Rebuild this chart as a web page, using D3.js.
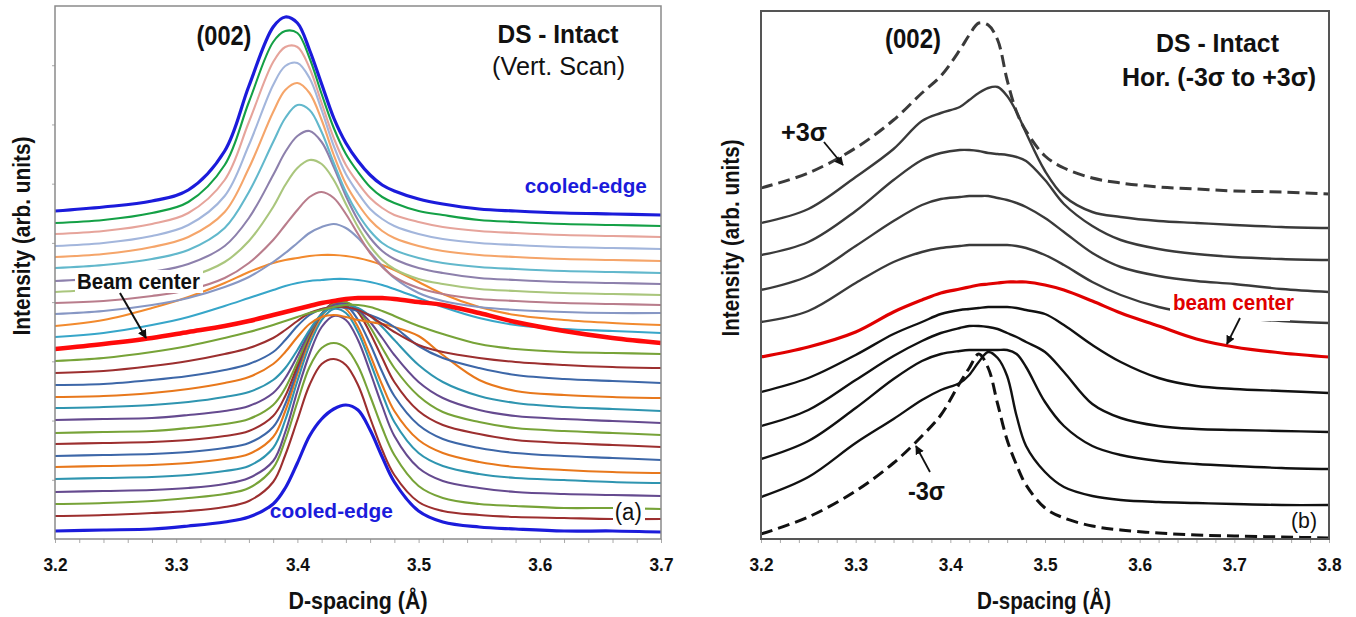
<!DOCTYPE html>
<html><head><meta charset="utf-8">
<script src="https://cdn.jsdelivr.net/npm/d3@7"></script>
<style>
body{margin:0;background:#fff}
text{font-family:"Liberation Sans",Arial,Helvetica,sans-serif}
</style>
</head><body>
<svg id="chart" width="1356" height="617"></svg>
<script>
// ---------------- DATA ----------------
// Panel (a): D-spacing sample positions
const dSpacingA = [3.20,3.24,3.28,3.31,3.34,3.36,3.38,3.39,3.40,3.41,3.42,3.43,3.44,3.45,3.46,3.47,3.48,3.50,3.52,3.55,3.58,3.62,3.66,3.70];
// Panel (a): vertical scan, stacked intensities (arb. units), top curve first
const vertScan = [
 [328,332,338,349,388,453,512,522,516,489,455,421,396,378,364,354,348,340,335,330,328,326,325,324],
 [316,319,326,337,374,437,497,508,506,481,445,411,385,367,352,342,336,328,324,319,317,315,314,313],
 [305,308,315,326,359,417,477,492,492,471,436,401,374,356,341,331,324,317,312,308,306,304,303,302],
 [293,296,303,314,343,394,454,473,476,461,429,393,365,346,330,320,313,305,300,296,294,292,291,290],
 [282,285,292,302,327,371,427,449,456,446,419,384,355,335,319,308,301,293,288,284,282,280,279,278],
 [271,274,280,289,311,347,397,421,434,429,407,376,347,325,308,296,289,281,276,272,270,268,267,266],
 [258,261,267,275,293,321,364,387,403,408,397,372,343,319,301,288,280,271,266,261,259,257,256,255],
 [247,250,255,262,277,298,332,354,371,379,375,359,335,312,293,279,270,260,255,250,248,246,245,244],
 [236,238,243,249,261,276,299,314,329,342,347,341,325,305,286,272,262,251,245,240,238,236,235,234],
 [225,228,234,241,252,262,277,286,296,306,312,315,311,301,287,273,261,246,238,232,229,227,226,226],
 [213,219,231,242,256,267,276,279,281,283,284,284,283,281,278,274,269,257,245,232,224,219,216,214],
 [202,206,214,222,233,241,249,253,256,258,259,260,260,259,257,254,250,241,232,221,214,210,208,206],
 [190,195,201,207,213,218,224,227,230,233,236,238,240,241,241,241,240,237,234,226,217,208,201,196],
 [178,181,187,193,201,207,214,218,222,226,229,232,234,234,232,228,223,213,205,195,190,187,186,185],
 [166,168,173,178,185,191,201,209,218,226,230,232,232,229,223,215,207,194,187,181,177,174,172,171],
 [154,155,159,163,169,175,187,199,213,224,230,232,231,228,224,219,212,193,181,171,164,160,158,156],
 [142,143,146,150,156,162,175,187,202,215,222,224,222,219,217,215,212,203,184,159,148,144,142,141],
 [131,132,134,137,142,147,159,171,189,209,225,232,234,231,223,212,199,174,157,143,136,132,130,128],
 [119,120,121,124,128,133,146,161,183,207,225,234,235,229,217,201,184,157,141,129,123,120,118,116],
 [106,107,108,111,115,120,134,151,177,205,225,235,237,229,212,191,171,143,127,117,111,108,106,104],
 [95,96,97,99,103,108,123,143,173,203,225,236,237,227,206,181,157,128,114,105,99,96,94,92],
 [83,84,85,87,91,96,112,135,169,202,225,236,234,219,195,167,143,114,100,91,86,83,81,79],
 [72,73,74,76,80,85,102,128,165,199,223,234,230,212,184,154,128,99,86,77,72,69,67,66],
 [60,61,62,64,68,73,91,119,158,194,219,230,226,207,177,145,117,86,73,65,61,59,57,56],
 [47,48,49,51,55,61,78,107,148,185,212,223,219,199,167,133,103,71,58,51,47,45,44,43],
 [35,36,38,41,45,51,71,99,137,172,191,196,191,173,143,111,84,53,41,35,33,31,31,30],
 [23,24,26,28,32,38,57,84,119,154,175,180,174,154,121,89,64,37,28,24,22,21,20,20],
 [8,9,10,13,17,22,35,51,76,103,120,130,134,129,109,82,57,28,17,12,10,8,8,7]
];
const beamCenterIndexA = 12;

// Panel (b): D-spacing sample positions
const dSpacingB = [3.20,3.25,3.30,3.34,3.37,3.39,3.41,3.42,3.43,3.44,3.45,3.46,3.47,3.48,3.50,3.52,3.55,3.58,3.62,3.66,3.70,3.75,3.80];
// Panel (b): horizontal scan, +3σ (top) to -3σ (bottom)
const plus3Sigma  = [351,366,391,419,446,463,489,504,516,514,499,459,427,408,383,371,361,356,352,350,348,347,345];
const horScan = [
 [316,330,362,390,418,426,432,439,446,451,452,443,427,406,368,343,327,322,318,316,314,312,311],
 [284,297,328,359,379,386,389,389,388,386,385,384,382,378,359,335,313,299,290,285,282,280,279],
 [249,263,293,318,334,340,342,343,343,343,341,339,336,332,321,307,286,272,263,258,255,250,247],
 [217,228,256,277,287,291,293,294,294,294,294,294,293,291,284,274,257,244,232,225,221,218,216],
 [147,161,184,205,217,225,229,230,231,232,232,232,231,229,225,214,194,177,161,153,150,148,146],
 [113,129,159,183,198,206,211,213,213,212,210,206,202,197,187,167,135,121,113,110,109,108,107],
 [80,98,131,160,178,185,188,189,189,189,189,189,185,172,137,113,93,84,78,75,73,71,70],
 [42,62,96,120,139,149,156,164,177,187,181,163,123,93,67,52,43,39,37,36,35,34,34]
];
const beamCenterB = [182,192,207,227,239,246,250,252,254,255,256,257,257,257,254,249,238,226,213,200,192,186,182];
const minus3Sigma = [5,22,48,76,103,124,156,171,185,171,135,99,74,54,31,21,13,9,6,4,3,2,1];

// Tick labels
const xTickLabelsA = [3.2,3.3,3.4,3.5,3.6,3.7];
const xTickLabelsB = [3.2,3.3,3.4,3.5,3.6,3.7,3.8];
const yTickCountA = 9;

// ---------------- STYLE ----------------
const paletteA = ["#1b1bdb","#14a046","#e6a49b","#a3b6dc","#f5a56a","#62b8cc","#8d80ac","#aac67d","#b97d8c","#8797c4","#f28a2e","#37a6c9","#ff0a0a",
  "#77a338","#9c2f2f","#3d67a8","#e8781c","#2f95b0","#654a8f","#77a338","#9c2f2f","#3d67a8","#e8781c","#2f95b0","#654a8f","#77a338","#9c2f2f","#1b1bdb"];

const svg = d3.select("#chart");
const xA = d3.scaleLinear().domain([3.2,3.7]).range([55,661]);
const yA = d3.scaleLinear().domain([0,533]).range([539,6]);
const xB = d3.scaleLinear().domain([3.2,3.8]).range([761,1329]);
const yB = d3.scaleLinear().domain([0,528]).range([539,11]);

const defs = svg.append("defs");
defs.append("clipPath").attr("id","clipA").append("rect")
  .attr("x",xA.range()[0]).attr("y",yA.range()[1]).attr("width",xA.range()[1]-xA.range()[0]).attr("height",yA.range()[0]-yA.range()[1]);
defs.append("clipPath").attr("id","clipB").append("rect")
  .attr("x",xB.range()[0]).attr("y",yB.range()[1]).attr("width",xB.range()[1]-xB.range()[0]).attr("height",yB.range()[0]-yB.range()[1]);
defs.append("marker").attr("id","arrowHead").attr("viewBox","0 0 10 10").attr("refX",9).attr("refY",5)
  .attr("markerWidth",9).attr("markerHeight",9).attr("markerUnits","userSpaceOnUse").attr("orient","auto")
  .append("path").attr("d","M0,0 L10,5 L0,10 z").attr("fill","#111");

const lineA = d3.line().x((v,i)=>xA(dSpacingA[i])).y(v=>yA(v)).curve(d3.curveCatmullRom.alpha(0.5));
const lineB = d3.line().x((v,i)=>xB(dSpacingB[i])).y(v=>yB(v)).curve(d3.curveCatmullRom.alpha(0.5));

function txt(g, x, y, s, size, weight, color, len, anchor){
  const t = g.append("text").attr("x",x).attr("y",y).text(s)
    .attr("font-size",size).attr("font-weight",weight||"normal").attr("fill",color||"#111")
    .attr("text-anchor",anchor||"middle");
  if(len) t.attr("textLength",len).attr("lengthAdjust","spacingAndGlyphs");
  return t;
}
function minorTicks(lo,hi){ const a=[]; for(let i=0;i<=Math.round((hi-lo)/0.02);i++) a.push(+(lo+i*0.02).toFixed(2)); return a; }
function tickLabels(g){
  g.select(".domain").remove();
  g.selectAll("text").attr("font-size",18).attr("font-weight","bold").attr("fill","#111")
    .attr("font-family",'"Liberation Sans",Arial,sans-serif')
    .attr("textLength",24).attr("lengthAdjust","spacingAndGlyphs");
}

// ---------------- PANEL A ----------------
const gA = svg.append("g");
gA.append("g").attr("transform",`translate(0,${yA.range()[0]})`)
  .call(d3.axisBottom(xA).tickValues(minorTicks(3.2,3.7)).tickSize(4).tickFormat(""))
  .call(g=>{g.select(".domain").remove(); g.selectAll("line").attr("stroke","#aaa");});
gA.append("g").attr("transform",`translate(0,${yA.range()[0]})`)
  .call(d3.axisBottom(xA).tickValues(xTickLabelsA).tickSize(0).tickPadding(19).tickFormat(d3.format(".1f")))
  .call(tickLabels);
gA.append("g").attr("transform",`translate(${xA.range()[0]},0)`)
  .call(d3.axisLeft(yA).tickValues(d3.range(1,yTickCountA).map(i=>i*533/yTickCountA)).tickSize(3).tickFormat(""))
  .call(g=>{g.select(".domain").remove(); g.selectAll("line").attr("stroke","#aaa");});

const curvesA = gA.append("g").attr("clip-path","url(#clipA)");
const orderA = d3.range(vertScan.length).reverse().filter(i=>i!==beamCenterIndexA).concat([beamCenterIndexA]);
orderA.forEach(i=>{
  curvesA.append("path").attr("d",lineA(vertScan[i])).attr("fill","none")
    .attr("stroke",paletteA[i])
    .attr("stroke-width", i===beamCenterIndexA?4.5:(i===0||i===vertScan.length-1?3.2:2.1))
    .attr("stroke-linejoin","round");
});
gA.append("rect").attr("x",55).attr("y",6).attr("width",606).attr("height",533)
  .attr("fill","none").attr("stroke","#8a8a8a").attr("stroke-width",1.5);

// annotations A
gA.append("rect").attr("x",75).attr("y",270).attr("width",128).attr("height",23).attr("fill","#fff");
txt(gA, xA(3.2689), yA(250), "Beam center", 22, "bold", "#111", 123);
gA.append("line").attr("x1",xA(3.2536)).attr("y1",yA(246)).attr("x2",xA(3.2751)).attr("y2",yA(201))
  .attr("stroke","#111").attr("stroke-width",2).attr("marker-end","url(#arrowHead)");
txt(gA, xA(3.3394), yA(494), "(002)", 27, "bold", "#111", 55);
txt(gA, xA(3.615), yA(496), "DS - Intact", 26, "bold", "#111", 121);
txt(gA, xA(3.6155), yA(464), "(Vert. Scan)", 26, "normal", "#111", 133);
txt(gA, xA(3.638), yA(346), "cooled-edge", 21, "bold", "#1b1bdb", 122);
txt(gA, xA(3.428), yA(21), "cooled-edge", 21, "bold", "#1b1bdb", 123);
gA.append("rect").attr("x",613).attr("y",502).attr("width",32).attr("height",22).attr("fill","#fff");
txt(gA, xA(3.673), yA(19), "(a)", 23, "normal", "#111", 27);
txt(gA, 358, 609, "D-spacing (Å)", 24, "bold", "#111", 139);
txt(gA, 0, 0, "Intensity (arb. units)", 24, "bold", "#111", 199).attr("transform","translate(30,236) rotate(-90)");

// ---------------- PANEL B ----------------
const gB = svg.append("g");
gB.append("g").attr("transform",`translate(0,${yB.range()[0]})`)
  .call(d3.axisBottom(xB).tickValues(minorTicks(3.2,3.8)).tickSize(4).tickFormat(""))
  .call(g=>{g.select(".domain").remove(); g.selectAll("line").attr("stroke","#aaa");});
gB.append("g").attr("transform",`translate(0,${yB.range()[0]})`)
  .call(d3.axisBottom(xB).tickValues(xTickLabelsB).tickSize(0).tickPadding(19).tickFormat(d3.format(".1f")))
  .call(tickLabels);

const curvesB = gB.append("g").attr("clip-path","url(#clipB)");
curvesB.append("path").attr("d",lineB(plus3Sigma)).attr("fill","none").attr("stroke","#3a3a3a")
  .attr("stroke-width",3).attr("stroke-dasharray","12,6");
horScan.forEach((s,i)=>{
  curvesB.append("path").attr("d",lineB(s)).attr("fill","none")
    .attr("stroke", i<4?"#3a3a3a":"#111").attr("stroke-width",2.4);
});
curvesB.append("path").attr("d",lineB(minus3Sigma)).attr("fill","none").attr("stroke","#111")
  .attr("stroke-width",3).attr("stroke-dasharray","12,6");
curvesB.append("path").attr("d",lineB(beamCenterB)).attr("fill","none").attr("stroke","#e00000").attr("stroke-width",3.2);

gB.append("rect").attr("x",761).attr("y",11).attr("width",568).attr("height",528)
  .attr("fill","none").attr("stroke","#555").attr("stroke-width",2);

// annotations B
gB.append("rect").attr("x",1170).attr("y",293).attr("width",120).attr("height",28).attr("fill","#fff");
txt(gB, xB(3.6991), yB(229), "beam center", 22, "bold", "#e00000", 121);
gB.append("line").attr("x1",xB(3.706)).attr("y1",yB(221)).attr("x2",xB(3.6922)).attr("y2",yB(195))
  .attr("stroke","#111").attr("stroke-width",1.8).attr("marker-end","url(#arrowHead)");
txt(gB, xB(3.3606), yB(491), "(002)", 27, "bold", "#111", 56);
txt(gB, xB(3.6822), yB(487), "DS - Intact", 26, "bold", "#111", 123);
txt(gB, xB(3.6838), yB(453), "Hor. (-3σ to +3σ)", 26, "bold", "#111", 194);
txt(gB, xB(3.2454), yB(398), "+3σ", 25, "bold", "#111", 46);
gB.append("line").attr("x1",xB(3.2665)).attr("y1",yB(397)).attr("x2",xB(3.2866)).attr("y2",yB(374))
  .attr("stroke","#111").attr("stroke-width",1.8).attr("marker-end","url(#arrowHead)");
txt(gB, xB(3.3748), yB(39), "-3σ", 25, "bold", "#111", 37);
gB.append("line").attr("x1",xB(3.3785)).attr("y1",yB(67)).attr("x2",xB(3.3637)).attr("y2",yB(93))
  .attr("stroke","#111").attr("stroke-width",1.8).attr("marker-end","url(#arrowHead)");
txt(gB, xB(3.7736), yB(11), "(b)", 22, "normal", "#111", 26);
txt(gB, 1044, 609, "D-spacing (Å)", 24, "bold", "#111", 134);
txt(gB, 0, 0, "Intensity (arb. units)", 24, "bold", "#111", 197).attr("transform","translate(739,238) rotate(-90)");
</script>
</body></html>
